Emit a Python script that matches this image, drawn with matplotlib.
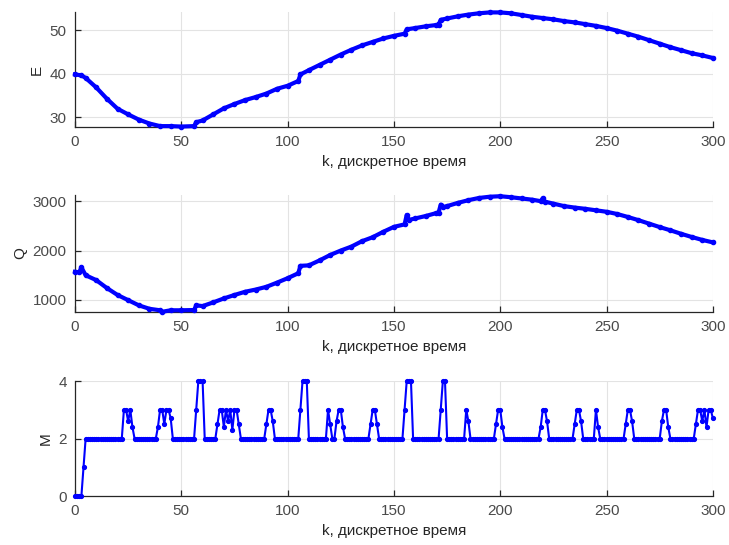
import numpy as np
import matplotlib
matplotlib.use("Agg")
import matplotlib.pyplot as plt

plt.rcParams['font.family'] = ['Liberation Sans', 'DejaVu Sans']

# E(k)
e_k = [0, 3, 5, 10, 15, 20, 25, 30, 35, 40, 45, 50, 56, 57, 60, 65, 70, 75, 80, 85,
       90, 95, 100, 105, 106, 110, 115, 120, 125, 130, 135, 140, 145, 150, 155, 156,
       160, 165, 170, 171, 172, 175, 180, 185, 190, 195, 200, 205, 210, 215, 220, 225,
       230, 235, 240, 245, 250, 255, 260, 265, 270, 275, 280, 285, 290, 295, 300]
e_val = [39.8, 39.6, 39.0, 36.8, 34.2, 31.9, 30.6, 29.4, 28.5, 27.9, 27.9, 27.8, 27.9,
         28.8, 29.2, 30.6, 32.0, 33.0, 33.9, 34.6, 35.4, 36.5, 37.2, 38.3, 39.8, 40.8,
         42.0, 43.2, 44.4, 45.5, 46.5, 47.3, 48.1, 48.7, 49.2, 50.2, 50.5, 50.9, 51.2,
         51.3, 52.4, 52.7, 53.2, 53.6, 53.9, 54.1, 54.1, 53.9, 53.5, 53.1, 52.8, 52.5,
         52.1, 51.8, 51.4, 51.0, 50.5, 49.9, 49.2, 48.5, 47.7, 46.9, 46.1, 45.4, 44.7,
         44.2, 43.6]

# Q(k), middle panel
q_k = [0, 2, 3, 5, 10, 15, 20, 25, 30, 35, 40, 41, 45, 50, 56, 57, 60, 65, 70, 75, 80,
       85, 90, 95, 100, 105, 106, 110, 115, 120, 125, 130, 135, 140, 145, 150, 155, 156,
       157, 160, 165, 170, 171, 172, 173, 175, 180, 185, 190, 195, 200, 205, 210, 215,
       219, 220, 221, 225, 230, 235, 240, 245, 250, 255, 260, 265, 270, 275, 280, 285,
       290, 295, 300]
q_val = [1570, 1560, 1660, 1500, 1400, 1240, 1100, 995, 890, 820, 790, 760, 790, 790,
         795, 890, 875, 950, 1030, 1100, 1165, 1210, 1265, 1350, 1440, 1540, 1690, 1700,
         1800, 1910, 2000, 2080, 2190, 2270, 2380, 2480, 2530, 2720, 2620, 2650, 2700,
         2760, 2770, 2930, 2880, 2900, 2965, 3020, 3065, 3090, 3100, 3080, 3055, 3030,
         3000, 3060, 2990, 2950, 2900, 2870, 2845, 2815, 2785, 2740, 2680, 2615, 2545,
         2475, 2410, 2340, 2275, 2215, 2165]

# M(k): start-up values, base level 2, and bursts (start k, values)
m_start = [0, 0, 0, 0, 1]
m_base = 2
m_bursts = [
    (23, [3, 3, 2.6, 3, 2.4]),
    (39, [2.4, 3, 3, 2.5, 3, 3, 2.7]),
    (57, [3, 4, 4, 4]),
    (67, [2.5, 3, 3, 2.4, 3, 2.6, 3, 2.3, 3, 3, 2.5]),
    (90, [2.5, 3, 3, 2.6]),
    (106, [3, 4, 4, 4]),
    (119, [3, 2.5]),
    (123, [2.6, 3, 3, 2.4]),
    (139, [2.5, 3, 3, 2.5]),
    (155, [3, 4, 4, 4]),
    (172, [3, 4, 4]),
    (184, [3, 2.6]),
    (198, [2.5, 3, 3, 2.4]),
    (219, [2.4, 3, 3, 2.6]),
    (235, [2.5, 3, 3, 2.6]),
    (245, [3, 2.4]),
    (259, [2.5, 3, 3, 2.6]),
    (276, [2.6, 3, 3, 2.4]),
    (292, [2.5, 3, 3, 2.6, 3, 2.4, 3, 3, 2.7]),
]

m_k = np.arange(0, 301)
m_val = np.full(len(m_k), float(m_base))
m_val[:len(m_start)] = m_start
for k0, vals in m_bursts:
    m_val[k0:k0 + len(vals)] = vals

BLUE = '#0000ff'
GRID = '#e3e3e3'
AXC = '#262626'
xlabel = 'k, дискретное время'

fig = plt.figure(figsize=(7.29, 5.45), dpi=100)
boxes = [[0.1029, 0.767, 0.875, 0.211],
         [0.1029, 0.4275, 0.875, 0.2147],
         [0.1029, 0.0899, 0.875, 0.211]]

series = [(e_k, e_val, 'E', (27.7, 54.2), [30, 40, 50]),
          (q_k, q_val, 'Q', (755, 3125), [1000, 2000, 3000]),
          (m_k, m_val, 'M', (0, 4), [0, 2, 4])]

for box, (xs, ys, name, ylim, yt) in zip(boxes, series):
    ax = fig.add_axes(box)
    if name == 'M':
        ax.plot(xs, ys, '-', color=BLUE, lw=1.5, marker='.', ms=5.5, zorder=3,
                clip_on=False)
    else:
        ax.plot(xs, ys, '-', color=BLUE, lw=3.0, marker='.', ms=6, zorder=3,
                clip_on=False)
    ax.set_xlim(0, 300)
    ax.set_ylim(*ylim)
    ax.set_xticks(range(0, 301, 50))
    ax.set_yticks(yt)
    ax.grid(True, color=GRID, lw=0.8)
    ax.set_axisbelow(True)
    for s in ['top', 'right']:
        ax.spines[s].set_visible(False)
    for s in ['left', 'bottom']:
        ax.spines[s].set_color(AXC)
        ax.spines[s].set_linewidth(0.9)
    ax.tick_params(direction='in', length=4, width=0.9, color=AXC,
                   labelsize=11, labelcolor='#4a4a4a', pad=6)
    ax.set_xlabel(xlabel, fontsize=11, color=AXC, labelpad=4)
    ax.set_ylabel(name, fontsize=11, color=AXC, labelpad=4)

fig.savefig('out.png', dpi=100)
